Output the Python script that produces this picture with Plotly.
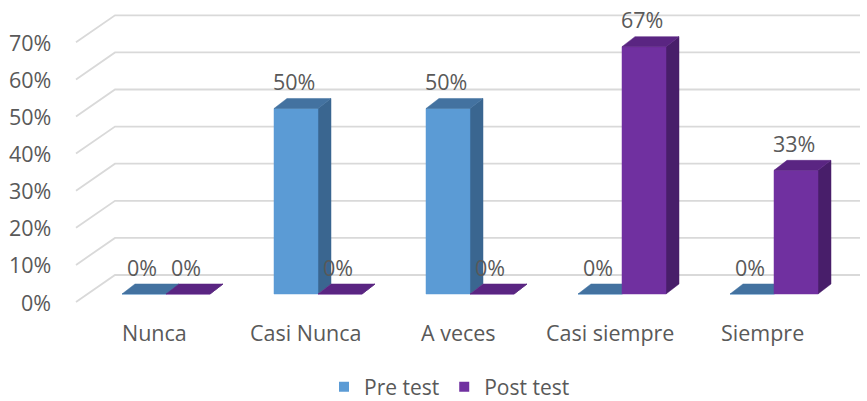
import plotly.graph_objects as go

# ---- data ----
categories = ["Nunca", "Casi Nunca", "A veces", "Casi siempre", "Siempre"]
series_names = ["Pre test", "Post test"]
pre_test = [0, 50, 50, 0, 0]
post_test = [0, 0, 0, 66.67, 33.33]
y_ticks = [0, 10, 20, 30, 40, 50, 60, 70]

# ---- style ----
FONT = "Open Sans"
TXT = "#595959"
front_cols = ["#5B9BD5", "#7030A0"]
side_cols = ["#3A6690", "#481E6A"]
top_cols = ["#4372A0", "#5A2582"]
GRID = "#D9D9D9"

# geometry in axis units
W = 0.2895          # bar width (category units)
DX = 0.0855         # depth offset x (category units)
DY = 2.70           # depth offset y (percent units)
PX_PER_PCT = 3.71
X0_PX, STEP_PX = 166.0, 152.0
WIDTH, HEIGHT = 867, 401

def xpx(p):
    return (p - X0_PX) / STEP_PX

def ypx(p):
    return (294 - p) / PX_PER_PCT

x_range = [xpx(0), xpx(WIDTH)]
y_range = [ypx(HEIGHT), ypx(0)]

fig = go.Figure()

# gridlines (3D wall style)
GF = -2.16   # front floor offset (pct)
GB = 5.12    # back wall offset (pct)
gx, gy = [], []
for t in y_ticks:
    gx += [xpx(76), xpx(115), xpx(860), None]
    gy += [t + GF, t + GB, t + GB, None]
fig.add_trace(go.Scatter(x=gx, y=gy, mode="lines", line=dict(color=GRID, width=1.8),
                         hoverinfo="skip", showlegend=False))

values = [pre_test, post_test]
for s, vals in enumerate(values):
    fx, fy, sx, sy, tx, ty = [], [], [], [], [], []
    for i, v in enumerate(vals):
        x0 = i + (s - 1) * W
        x1 = x0 + W
        fx += [x0, x1, x1, x0, x0, None]
        fy += [0, 0, v, v, 0, None]
        sx += [x1, x1 + DX, x1 + DX, x1, x1, None]
        sy += [0, DY, v + DY, v, 0, None]
        tx += [x0, x1, x1 + DX, x0 + DX, x0, None]
        ty += [v, v, v + DY, v + DY, v, None]
    fig.add_trace(go.Scatter(x=sx, y=sy, mode="lines", fill="toself", fillcolor=side_cols[s],
                             line=dict(color=side_cols[s], width=0.5), hoverinfo="skip", showlegend=False))
    fig.add_trace(go.Scatter(x=fx, y=fy, mode="lines", fill="toself", fillcolor=front_cols[s],
                             line=dict(color=front_cols[s], width=0.5), hoverinfo="skip", showlegend=False))
    fig.add_trace(go.Scatter(x=tx, y=ty, mode="lines", fill="toself", fillcolor=top_cols[s],
                             line=dict(color=top_cols[s], width=0.5), hoverinfo="skip", showlegend=False))

# legend entries
for s, name in enumerate(series_names):
    fig.add_trace(go.Scatter(x=[None], y=[None], mode="markers", name=name,
                             marker=dict(symbol="square", size=10, color=front_cols[s], line=dict(width=0))))

annotations = []
# y tick labels
for t in y_ticks:
    annotations.append(dict(x=xpx(53), y=t + GF, text=f"{t}%", showarrow=False, xanchor="right",
                            yanchor="middle", font=dict(family=FONT, size=21.5, color=TXT)))
# category labels
for i, c in enumerate(categories):
    annotations.append(dict(x=i + xpx(X0_PX - 12), y=ypx(332), text=c, showarrow=False,
                            xanchor="center", yanchor="middle", font=dict(family=FONT, size=21.5, color=TXT)))
# data labels
for s, vals in enumerate(values):
    for i, v in enumerate(vals):
        xc = i + (s - 1) * W + W / 2 - 2 / STEP_PX
        annotations.append(dict(x=xc, y=v + 27 / PX_PER_PCT, text=f"{round(v)}%", showarrow=False,
                                xanchor="center", yanchor="middle",
                                font=dict(family=FONT, size=21.5, color=TXT)))

fig.update_layout(
    width=WIDTH, height=HEIGHT,
    margin=dict(l=0, r=0, t=0, b=0, autoexpand=False),
    paper_bgcolor="white", plot_bgcolor="white",
    xaxis=dict(range=x_range, visible=False, fixedrange=True),
    yaxis=dict(range=y_range, visible=False, fixedrange=True),
    showlegend=True,
    legend=dict(orientation="h", x=324 / WIDTH, y=1 - 387 / HEIGHT, xanchor="left", yanchor="middle",
                font=dict(family=FONT, size=21, color=TXT), bgcolor="rgba(0,0,0,0)"),
    annotations=annotations,
)

fig.write_html("out.html")
